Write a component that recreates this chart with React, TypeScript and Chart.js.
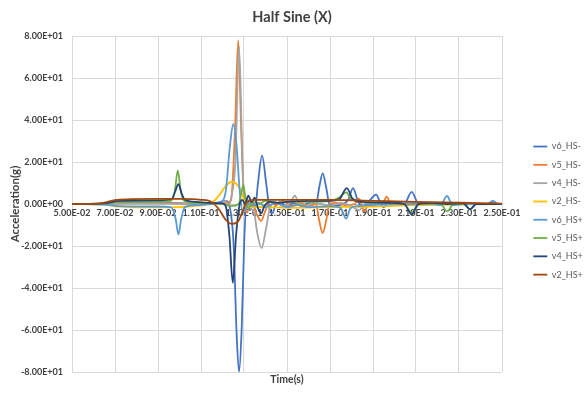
import React, { useEffect, useRef } from "react";
import { Chart, registerables } from "chart.js";

Chart.register(...registerables);

const FONT = "Lato, 'Open Sans', sans-serif";

const chartTitle = "Half Sine (X)";
const xTitle = "Time(s)";
const yTitle = "Acceleration(g)";

const seriesNames = ["v6_HS-", "v5_HS-", "v4_HS-", "v2_HS-", "v6_HS+", "v5_HS+", "v4_HS+", "v2_HS+"];
const seriesColors = ["#4472C4", "#ED7D31", "#A5A5A5", "#FFC000", "#5B9BD5", "#70AD47", "#264478", "#9E480E"];

const xTickValues = [0.05, 0.07, 0.09, 0.11, 0.13, 0.15, 0.17, 0.19, 0.21, 0.23, 0.25];
const yMin = -80;
const yMax = 80;
const yStep = 20;

// [time (s), acceleration (g)]
const v6HSminus: number[][] = [
  [0.05, 0], [0.065, 0.2], [0.075, 0.6], [0.09, 0.6], [0.1, 0.4], [0.11, 0], [0.117, 0.5], [0.1215, 1.5],
  [0.1235, -2], [0.1252, -20], [0.1265, -60], [0.1277, -80], [0.1289, -60], [0.1302, -15], [0.1315, 2],
  [0.1328, -3], [0.134, 1], [0.1352, -2], [0.1365, 10], [0.1384, 23], [0.1403, 10], [0.1418, -2],
  [0.1432, -4.5], [0.1445, -1], [0.147, 1], [0.15, -1.5], [0.153, 0.5], [0.157, -1], [0.16, 0.5],
  [0.1635, 0], [0.165, 8], [0.1666, 14.6], [0.1682, 8], [0.1697, 0], [0.172, -1], [0.176, 0], [0.1785, 2],
  [0.1807, 7.6], [0.1828, 2], [0.1845, -1], [0.187, 0], [0.1915, 4.5], [0.1932, 1], [0.1948, -1.5],
  [0.197, 0], [0.2, 0.3], [0.2045, 0], [0.208, 5.8], [0.2112, 0], [0.215, 0.3], [0.22, 0], [0.2243, 0.5],
  [0.23, 0], [0.2435, 0], [0.2458, 1.2], [0.248, 0], [0.25, 0],
];
const v5HSminus: number[][] = [
  [0.05, 0], [0.065, 0], [0.075, 0.5], [0.09, 0.5], [0.1, 0.3], [0.11, 0], [0.118, 0.3], [0.122, 0.5],
  [0.124, 2], [0.1258, 35], [0.1273, 78], [0.1287, 35], [0.13, 2], [0.1315, -4], [0.133, 1], [0.1345, -1],
  [0.136, -5], [0.138, -8], [0.14, -3], [0.142, 1], [0.145, -0.5], [0.148, 1.5], [0.152, -1], [0.156, 0.5],
  [0.16, -1], [0.1635, 0], [0.165, -8], [0.1666, -13.8], [0.1682, -8], [0.1697, 0], [0.173, 0.5],
  [0.177, -0.5], [0.1815, 0], [0.1835, 2.5], [0.186, -3.5], [0.188, 0], [0.1943, 0], [0.1964, 3.5],
  [0.1985, -0.5], [0.202, 0], [0.21, 0.5], [0.22, 0], [0.25, 0],
];
const v4HSminus: number[][] = [
  [0.05, 0], [0.065, 0], [0.075, 0.3], [0.09, 0.3], [0.1, 0.2], [0.11, 0], [0.118, 0.5], [0.1215, 1.5],
  [0.1228, -1], [0.124, 3], [0.126, 20], [0.1277, 75], [0.1293, 20], [0.1305, -3], [0.1318, 2],
  [0.1332, -2], [0.1347, -4], [0.1362, -14], [0.1382, -21], [0.1402, -12], [0.142, -2], [0.1445, 1],
  [0.148, -1], [0.1515, 0.5], [0.1537, 4], [0.1555, 0], [0.159, -1], [0.162, 0.5], [0.166, 0], [0.17, -1],
  [0.175, 0.5], [0.18, -1], [0.1835, -3], [0.186, 0], [0.19, 0.5], [0.2, 0], [0.25, 0],
];
const v2HSminus: number[][] = [
  [0.05, 0], [0.065, -0.3], [0.072, -1.2], [0.09, -1.6], [0.1, -1.5], [0.108, -0.8], [0.114, 0],
  [0.118, 3.5], [0.1215, 8.5], [0.1243, 10.6], [0.127, 9], [0.129, 5], [0.1305, 1], [0.1325, -1.5],
  [0.14, -1.5], [0.15, -1.8], [0.17, -1.5], [0.19, -1.2], [0.21, -0.5], [0.25, 0],
];
const v6HSplus: number[][] = [
  [0.05, 0], [0.065, -0.3], [0.072, -1], [0.09, -1.2], [0.096, -1.5], [0.0982, -7], [0.0995, -14.5],
  [0.1008, -7], [0.1025, -1.5], [0.108, -0.5], [0.115, 0], [0.1195, 1], [0.1215, 6], [0.1235, 28],
  [0.125, 38], [0.1265, 28], [0.1282, 4], [0.1295, -4], [0.131, -2], [0.1325, 1], [0.134, -1], [0.137, 0.5],
  [0.14, -1.5], [0.145, 0.5], [0.15, -1.5], [0.155, -0.5], [0.16, -1.5], [0.17, -1], [0.175, -2],
  [0.1775, -7], [0.1795, -2], [0.183, -1], [0.19, -0.5], [0.2, 0], [0.21, 0], [0.218, 0], [0.2215, -0.5],
  [0.2244, 3.8], [0.227, -0.5], [0.232, 0], [0.243, 0], [0.2458, 1.5], [0.248, 0], [0.25, 0],
];
const v5HSplus: number[][] = [
  [0.05, 0], [0.065, 0.2], [0.072, 1], [0.09, 1.2], [0.096, 1.5], [0.0978, 6], [0.0992, 16], [0.1006, 6],
  [0.1022, 1.5], [0.108, 0.5], [0.115, 0.3], [0.12, 0], [0.124, -1], [0.1275, 0], [0.1287, 5],
  [0.1297, 9], [0.1308, 2], [0.132, -2], [0.134, 1], [0.137, 0], [0.14, 1.5], [0.145, 0.5], [0.15, 1],
  [0.16, 1], [0.17, 1.5], [0.174, 3], [0.1775, 5.5], [0.18, 2], [0.185, 1], [0.19, 0.5], [0.2, 0.5],
  [0.2045, 0], [0.208, -4], [0.2112, 0], [0.218, 0.3], [0.2215, 0], [0.2245, -3.5], [0.2275, 0],
  [0.232, 0], [0.2352, -2.5], [0.238, 0], [0.25, 0],
];
const v4HSplus: number[][] = [
  [0.05, 0], [0.065, 0.3], [0.072, 1.5], [0.09, 1.7], [0.0965, 2.5], [0.098, 6], [0.0995, 9.5], [0.101, 5],
  [0.1025, 2], [0.108, 1], [0.115, 0.5], [0.12, 0.3], [0.1215, -1], [0.1232, -15], [0.1248, -37.6],
  [0.1263, -15], [0.1278, -1], [0.1292, 2], [0.1305, 0], [0.132, 4], [0.1335, 1], [0.135, 3], [0.1365, -2],
  [0.138, -4.5], [0.1395, -1], [0.142, 1], [0.146, 0.5], [0.15, 1], [0.16, 1.5], [0.17, 1.5],
  [0.1745, 2.5], [0.1778, 7.6], [0.1805, 2.5], [0.185, 1], [0.19, 0.8], [0.2, 0.5], [0.2045, 0],
  [0.208, -5], [0.2112, 0], [0.218, 0.5], [0.2245, 0], [0.232, 0.3], [0.2352, -2.5], [0.238, 0], [0.25, 0],
];
const v2HSplus: number[][] = [
  [0.05, 0], [0.063, 0.3], [0.07, 1.8], [0.075, 2.2], [0.09, 2.4], [0.1, 2.4], [0.11, 2], [0.1145, 1.2],
  [0.118, -2], [0.1215, -7.5], [0.1245, -9.5], [0.1275, -8], [0.1295, -3], [0.1315, 1], [0.135, 2],
  [0.15, 2], [0.17, 2], [0.19, 1.5], [0.21, 1], [0.23, 0.6], [0.25, 0.2],
];

const seriesData = [v6HSminus, v5HSminus, v4HSminus, v2HSminus, v6HSplus, v5HSplus, v4HSplus, v2HSplus];

function sci(v: number): string {
  if (Math.abs(v) < 1e-12) return "0.00E+00";
  let exp = Math.floor(Math.log10(Math.abs(v)));
  let mant = v / Math.pow(10, exp);
  if (Math.abs(Number(mant.toFixed(2))) >= 10) {
    exp += 1;
    mant = v / Math.pow(10, exp);
  }
  const sign = exp < 0 ? "-" : "+";
  return mant.toFixed(2) + "E" + sign + String(Math.abs(exp)).padStart(2, "0");
}

export default function App() {
  const ref = useRef<HTMLCanvasElement | null>(null);

  useEffect(() => {
    if (!ref.current) return;
    const tickFont = { family: FONT, size: 9, weight: "bold" as const };
    const chart = new Chart(ref.current, {
      type: "line",
      data: {
        datasets: seriesNames.map((name, i) => ({
          label: name,
          data: seriesData[i].map(([x, y]) => ({ x, y })),
          borderColor: seriesColors[i],
          backgroundColor: seriesColors[i],
          borderWidth: 1.8,
          pointRadius: 0,
          cubicInterpolationMode: "monotone" as const,
          xAxisID: "x",
          yAxisID: "y",
          order: seriesNames.length - i,
        })),
      },
      options: {
        animation: false,
        responsive: false,
        devicePixelRatio: 1,
        layout: { padding: { left: 0, right: 0, top: 0, bottom: 0 } },
        plugins: {
          title: {
            display: true,
            text: chartTitle,
            color: "#404040",
            font: { family: FONT, size: 14.5, weight: "bold" },
            padding: { top: 8.3, bottom: 10.3 },
          },
          legend: {
            position: "right",
            align: "center",
            maxWidth: 60,
            title: { display: true, text: " ", font: { size: 1 }, padding: { top: 0, bottom: 27 } },
            labels: {
              usePointStyle: true,
              pointStyle: "line",
              pointStyleWidth: 14,
              color: "#595959",
              font: { family: FONT, size: 9 },
              padding: 9.3,
              sort: (a: any, b: any) => a.datasetIndex - b.datasetIndex,
            },
          },
          tooltip: { enabled: false },
        },
        scales: {
          x: {
            type: "linear",
            axis: "x",
            position: { y: 0 } as any,
            min: 0.05,
            max: 0.25,
            afterBuildTicks: (scale: any) => {
              scale.ticks = xTickValues.map((value) => ({ value }));
            },
            grid: { color: "#d9d9d9", drawTicks: false, lineWidth: 1 },
            border: { display: true, color: "#bfbfbf" },
            ticks: {
              callback: (v: any) => sci(Number(v)),
              color: "#404040",
              font: tickFont,
              padding: 4,
              maxRotation: 0,
              autoSkip: false,
            },
          },
          x2: {
            type: "linear",
            axis: "x",
            position: "bottom",
            min: 0.05,
            max: 0.25,
            grid: { display: false, drawTicks: false },
            border: { display: false },
            ticks: { display: false },
            title: {
              display: true,
              text: xTitle,
              color: "#404040",
              font: { family: FONT, size: 10.5, weight: "bold" },
              padding: { top: 1.7, bottom: 6.7 },
            },
          },
          y: {
            type: "linear",
            position: "left",
            min: yMin,
            max: yMax,
            ticks: {
              stepSize: yStep,
              callback: (v: any) => sci(Number(v)),
              color: "#404040",
              font: tickFont,
              padding: 9,
            },
            grid: { color: "#d9d9d9", drawTicks: false },
            border: { display: false },
            title: {
              display: true,
              text: yTitle,
              color: "#404040",
              font: { family: FONT, size: 11.5, weight: "bold" },
              padding: { top: 8, bottom: 0 },
            },
            afterFit: (s: any) => {
              s.width = 72;
            },
          },
          y2: {
            type: "linear",
            axis: "y",
            position: "right",
            grid: { display: false, drawTicks: false },
            border: { display: false },
            ticks: { display: false },
            afterFit: (s: any) => {
              const lw = s.chart.legend ? s.chart.legend.width : 0;
              s.width = Math.max(0, 82 - lw);
            },
          },
        },
      },
    } as any);
    return () => chart.destroy();
  }, []);

  return (
    <div style={{ position: "absolute", left: 0, top: 0, width: 584, height: 393, background: "#fff" }}>
      <canvas ref={ref} width={584} height={393} style={{ width: 584, height: 393, display: "block" }} />
    </div>
  );
}
